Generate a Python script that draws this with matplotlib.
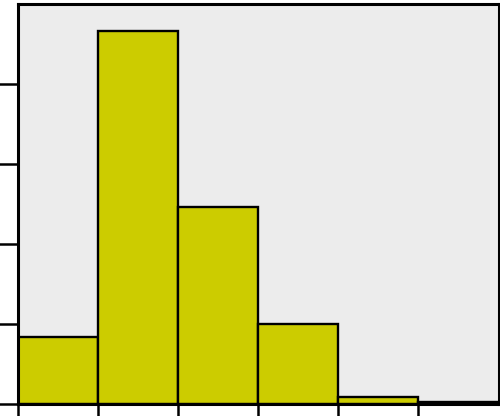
import matplotlib
matplotlib.use("Agg")
import matplotlib.pyplot as plt

# histogram bins and counts
bin_edges = [0, 1, 2, 3, 4, 5, 6]
counts = [16.8, 93.2, 49.2, 20.0, 1.8, 0.6]
y_ticks = [0, 20, 40, 60, 80]

fig = plt.figure(figsize=(5.0, 4.16), dpi=100)
W, H = 500, 416
ax = fig.add_axes([17.5 / W, 1 - 404 / H, (498.5 - 17.5) / W, (404 - 4) / H])
ax.set_facecolor("#ececec")

ax.bar(bin_edges[:-1], counts, width=1, align="edge",
       color="#cccc00", edgecolor="black", linewidth=1.7, zorder=2)

ax.set_xlim(bin_edges[0], bin_edges[-1])
ax.set_ylim(0, 100)
ax.set_xticks(bin_edges[:-1])
ax.set_yticks(y_ticks)
ax.set_xticklabels([])
ax.set_yticklabels([])
ax.tick_params(axis="both", length=14, width=1.8, color="black")

for s in ax.spines.values():
    s.set_linewidth(2.2)
    s.set_color("black")

fig.savefig("out.png", dpi=100)
